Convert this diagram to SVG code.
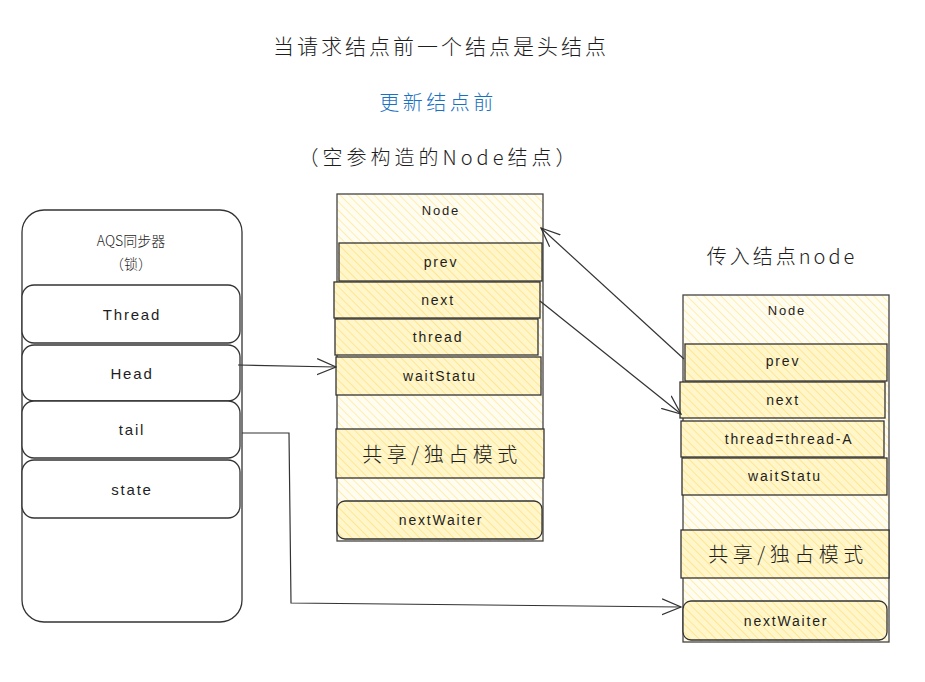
<svg xmlns="http://www.w3.org/2000/svg" width="925" height="682" viewBox="0 0 925 682">
<defs>
<pattern id="hatch" patternUnits="userSpaceOnUse" width="6" height="6" patternTransform="rotate(-45)">
<rect width="6" height="6" fill="#fffdf2"/>
<line x1="0" y1="0" x2="0" y2="6" stroke="#ffe99a" stroke-width="1.6"/>
</pattern>
<pattern id="hatch2" patternUnits="userSpaceOnUse" width="6" height="6" patternTransform="rotate(-45)">
<rect width="6" height="6" fill="#fff6cc"/>
<line x1="0" y1="0" x2="0" y2="6" stroke="#ffe380" stroke-width="1.6"/>
</pattern>
<marker id="arr" viewBox="0 0 20 20" refX="19" refY="10" markerWidth="20" markerHeight="20" markerUnits="userSpaceOnUse" orient="auto">
<path d="M0,2 L19,10 L0,18" fill="none" stroke="#333" stroke-width="1.2"/>
</marker>
<style>
.t{font-family:"Liberation Sans","Noto Sans CJK SC",sans-serif;fill:#1e1e1e;text-anchor:middle;dominant-baseline:central;letter-spacing:1.8px}
.cjk{font-family:"Noto Sans CJK SC",sans-serif;fill:#1e1e1e;text-anchor:middle;dominant-baseline:central;font-weight:300}
.blue{fill:#1971c2}
.box{fill:#fff;stroke:#333;stroke-width:1.3}
.outer{fill:url(#hatch);stroke:#444;stroke-width:1.3}
.f{fill:url(#hatch2);stroke:#333;stroke-width:1.3}
.c{fill:none;stroke:#333;stroke-width:1.2}
</style>
</defs>
<rect width="925" height="682" fill="#fff"/>
<g id="titles">
<text class="cjk" x="441" y="45" font-size="21" letter-spacing="3">当请求结点前一个结点是头结点</text>
<text class="cjk blue" x="438" y="101" font-size="20" letter-spacing="3.5">更新结点前</text>
<text class="cjk" x="439" y="156" font-size="20" letter-spacing="4">（空参构造的Node结点）</text>
<text class="cjk" x="782" y="255" font-size="20" letter-spacing="3">传入结点node</text>
</g>
<g id="aqs">
<rect class="box" x="22" y="210" width="220" height="412" rx="22"/>
<text class="cjk" x="131" y="240" font-size="14">AQS同步器</text>
<text class="cjk" x="131" y="263" font-size="14">（锁）</text>
</g>
<g id="aqs-thread"><rect class="box" x="22" y="285" width="218" height="58" rx="12"/><text class="t" x="132" y="314" font-size="15">Thread</text></g>
<g id="aqs-head"><rect class="box" x="22" y="345" width="218" height="56" rx="12"/><text class="t" x="132" y="373" font-size="15">Head</text></g>
<g id="aqs-tail"><rect class="box" x="22" y="401" width="218" height="57" rx="12"/><text class="t" x="132" y="429" font-size="15">tail</text></g>
<g id="aqs-state"><rect class="box" x="22" y="460" width="218" height="58" rx="12"/><text class="t" x="132" y="489" font-size="15">state</text></g>

<g id="node1">
<rect class="outer" x="337" y="194" width="206" height="347"/>
<text class="t" x="441" y="210" font-size="13">Node</text>
</g>
<g id="node1-prev"><rect class="f" x="339" y="243" width="203" height="38"/><text class="t" x="441" y="262" font-size="14">prev</text></g>
<g id="node1-next"><rect class="f" x="334" y="282" width="206" height="36"/><text class="t" x="438" y="300" font-size="14">next</text></g>
<g id="node1-thread"><rect class="f" x="335" y="319" width="203" height="36"/><text class="t" x="438" y="337" font-size="14">thread</text></g>
<g id="node1-wait"><rect class="f" x="336" y="357" width="205" height="38"/><text class="t" x="440" y="376" font-size="14">waitStatu</text></g>
<g id="node1-mode"><rect class="f" x="336" y="429" width="208" height="49"/><text class="cjk" x="442" y="453" font-size="20" letter-spacing="4.5">共享/独占模式</text></g>
<g id="node1-nw"><rect class="f" x="337" y="501" width="205" height="38" rx="8"/><text class="t" x="441" y="520" font-size="14">nextWaiter</text></g>

<g id="node2">
<rect class="outer" x="683" y="295" width="206" height="347"/>
<text class="t" x="787" y="310" font-size="13">Node</text>
</g>
<g id="node2-prev"><rect class="f" x="685" y="344" width="202" height="37"/><text class="t" x="783" y="361" font-size="14">prev</text></g>
<g id="node2-next"><rect class="f" x="680" y="382" width="205" height="36"/><text class="t" x="783" y="400" font-size="14">next</text></g>
<g id="node2-thread"><rect class="f" x="681" y="421" width="203" height="36"/><text class="t" x="789" y="439" font-size="14" letter-spacing="2.3">thread=thread-A</text></g>
<g id="node2-wait"><rect class="f" x="682" y="458" width="205" height="37"/><text class="t" x="785" y="476" font-size="14">waitStatu</text></g>
<g id="node2-mode"><rect class="f" x="681" y="530" width="208" height="48"/><text class="cjk" x="788" y="553" font-size="20" letter-spacing="4.5">共享/独占模式</text></g>
<g id="node2-nw"><rect class="f" x="683" y="601" width="204" height="39" rx="8"/><text class="t" x="786" y="621" font-size="14">nextWaiter</text></g>

<g id="connectors">
<path class="c" d="M238,365 L336,367" marker-end="url(#arr)"/>
<path class="c" d="M540,301 L681,414" marker-end="url(#arr)"/>
<path class="c" d="M684,359 L541,228" marker-end="url(#arr)"/>
<path class="c" d="M242,433 L289,433 L291,603 L681,607" marker-end="url(#arr)"/>
</g>
</svg>
